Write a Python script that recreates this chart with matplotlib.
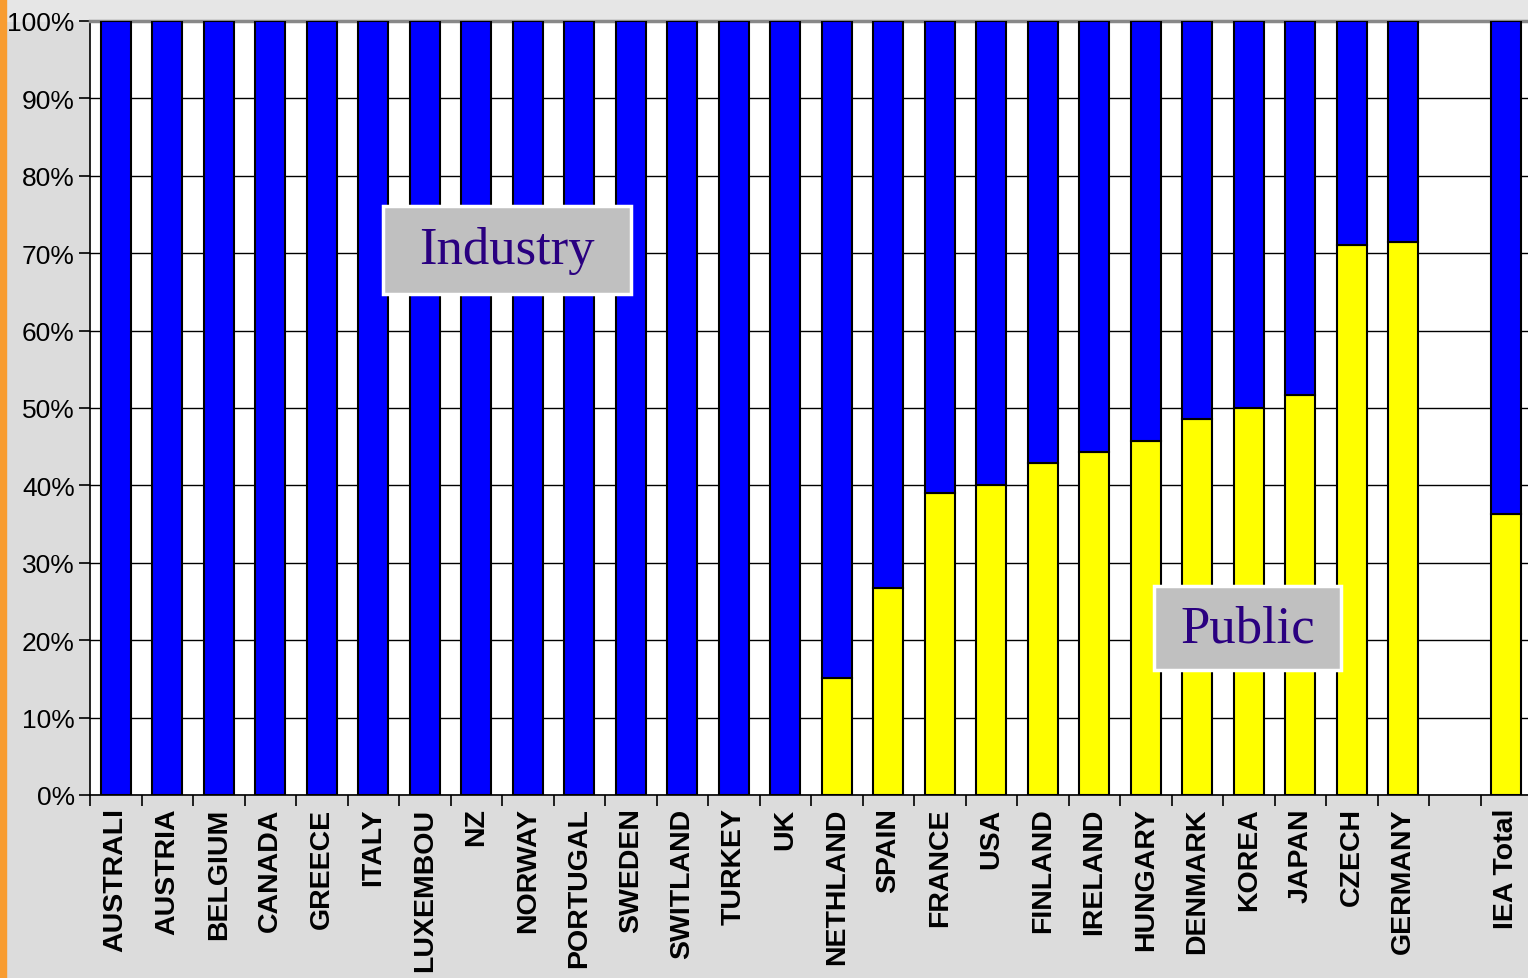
import numpy as np
import matplotlib.pyplot as plt
from matplotlib.patches import Rectangle

# Share of public funding (%), rest is industry
countries = ["AUSTRALI", "AUSTRIA", "BELGIUM", "CANADA", "GREECE", "ITALY",
             "LUXEMBOU", "NZ", "NORWAY", "PORTUGAL", "SWEDEN", "SWITLAND",
             "TURKEY", "UK", "NETHLAND", "SPAIN", "FRANCE", "USA", "FINLAND",
             "IRELAND", "HUNGARY", "DENMARK", "KOREA", "JAPAN", "CZECH",
             "GERMANY", "", "IEA Total"]
public = [0, 0, 0, 0, 0, 0, 0, 0, 0, 0, 0, 0, 0, 0,
          15.1, 26.7, 39.0, 40.0, 42.9, 44.3, 45.7, 48.6, 50.0, 51.7,
          71.1, 71.4, np.nan, 36.3]
public = np.array(public)
industry = 100 - public

x = np.arange(len(countries))

fig = plt.figure(figsize=(15.28, 9.79), dpi=100, facecolor="#dcdcdc")
fig.patches.append(Rectangle((0, 1 - 22 / 979), 1, 22 / 979, transform=fig.transFigure,
                             color="#e6e6e6", zorder=-2))
fig.patches.append(Rectangle((0, 0), 6 / 1528, 1, transform=fig.transFigure,
                             color="#f89c30", zorder=-1))

ax = fig.add_axes([90 / 1528, 183 / 979, 1442 / 1528, 774 / 979])
ax.set_facecolor("white")

w = 0.58
ax.bar(x, public, w, color="#ffff00", edgecolor="black", linewidth=1.5, zorder=3)
ax.bar(x, industry, w, bottom=public, color="#0000ff", edgecolor="black",
       linewidth=1.5, zorder=3)

ax.set_xlim(-0.5, len(countries) - 0.5)
ax.set_ylim(0, 100)
ax.set_yticks(np.arange(0, 101, 10))
ax.set_yticklabels([f"{v}%" for v in range(0, 101, 10)], fontsize=19,
                   family="Liberation Sans")
ax.yaxis.grid(True, color="black", linewidth=1.0, zorder=0)
ax.set_axisbelow(True)

ax.set_xticks(np.arange(-0.5, len(countries), 1))
ax.set_xticklabels([])
ax.tick_params(axis="both", direction="out", length=8, width=1.2, color="black")
ax.tick_params(axis="y", pad=3)
for i, name in enumerate(countries):
    ax.text(i, -1.6, name, rotation=90, ha="center", va="top", fontsize=20.5,
            fontweight="bold", family="Liberation Sans", clip_on=False)

ax.spines["right"].set_visible(False)
ax.spines["top"].set_color("#888888")
ax.spines["top"].set_linewidth(2.5)
ax.spines["left"].set_linewidth(1.2)
ax.spines["bottom"].set_linewidth(1.2)

# label boxes
for (x0, x1, y0, y1, label) in [(5.19, 10.0, 64.7, 76.1, "Industry"),
                                (20.16, 23.79, 16.1, 27.0, "Public")]:
    ax.add_patch(Rectangle((x0, y0), x1 - x0, y1 - y0, facecolor="#c0c0c0",
                           edgecolor="white", linewidth=2.5, zorder=5))
    ax.text((x0 + x1) / 2, (y0 + y1) / 2, label, ha="center", va="center",
            fontsize=38, family="Liberation Serif", color="#2a0080", zorder=6)

fig.savefig("out.png", dpi=100, facecolor=fig.get_facecolor())
